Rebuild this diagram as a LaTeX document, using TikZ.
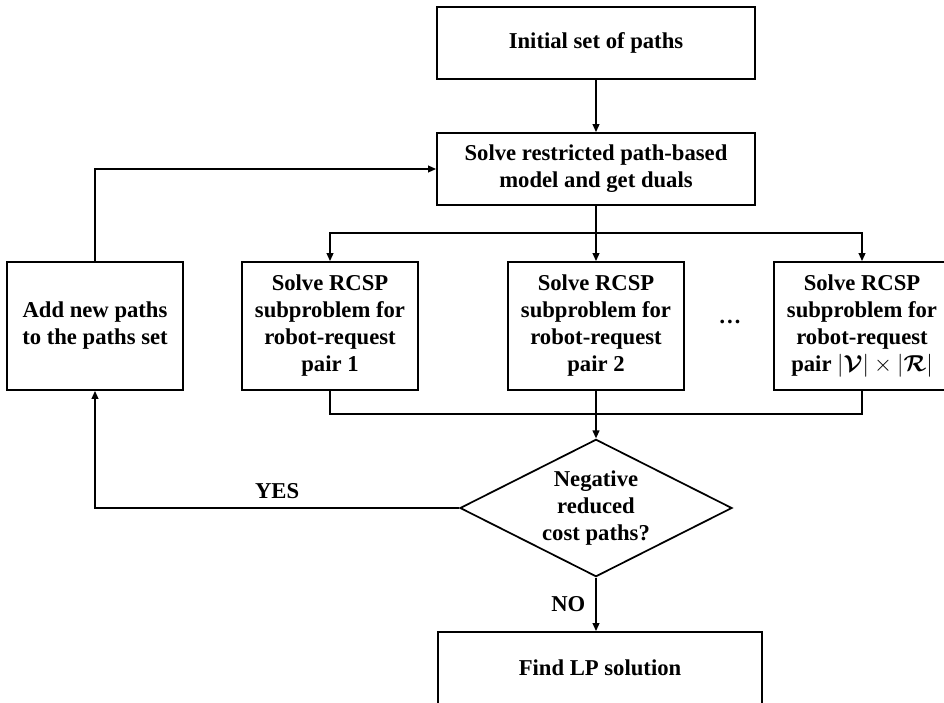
\documentclass[tikz,border=0pt]{standalone}
\usepackage{amsmath}
\usepackage{fontspec}
\setmainfont{Liberation Serif}
\usetikzlibrary{shapes.geometric,arrows.meta}

\begin{document}
\begin{tikzpicture}[x=0.75pt,y=-0.75pt,line width=1.3pt,
    font=\bfseries\fontsize{17}{20.25}\selectfont,
    >={Triangle[length=6pt,width=5pt]},
    box/.style={draw,rectangle,align=center,inner sep=0pt},
    widebox/.style={box,minimum width=238.5pt,minimum height=54pt},
    subbox/.style={box,minimum width=132pt,minimum height=96pt},
    decision/.style={draw,diamond,shape aspect=2,align=center,inner sep=0pt,
      minimum width=204pt,minimum height=103pt}]
      \useasboundingbox (0,0) rectangle (944,702);

      \node[widebox] (1) at (596,43) {Initial set of paths};
      \node[widebox] (2) at (596,169) {Solve restricted path-based\\model and get duals};
      \node[subbox] (3) at (95,326) {Add new paths\\to the paths set};
      \node[subbox] (4) at (330,326) {Solve RCSP\\subproblem for\\robot-request\\pair 1};
      \node[subbox] (5) at (596,326) {Solve RCSP\\subproblem for\\robot-request\\pair 2};
      \node (6) at (730,322) {\dots};
      \node[subbox] (7) at (862,326) {Solve RCSP\\subproblem for\\robot-request\\pair $|\boldsymbol{\mathcal{V}}|\times|\boldsymbol{\mathcal{R}}|$};
      \node[decision] (8) at (596,508) {Negative\\reduced\\cost paths?};
      \node[widebox,minimum width=243pt] (9) at (600,668) {Find LP solution};
      \coordinate (s) at (596,233);
      \coordinate (m) at (596,414);

      \draw[->] (1) -- (2);
      \draw (2) -- (s);
      \draw[->] (s) -| (4);
      \draw[->] (s) -- (5);
      \draw[->] (s) -| (7);
      \draw (4) |- (m);
      \draw (7) |- (m);
      \draw[->] (5) -- (8);
      \draw[->] (8) -| node[pos=0.25,above,yshift=3pt] {YES} (3);
      \draw[->] (8.south) -- node[left,xshift=-4pt] {NO} (8.south |- 9.north);
      \draw[->] (3) |- (2);
    \end{tikzpicture}
\end{document}
